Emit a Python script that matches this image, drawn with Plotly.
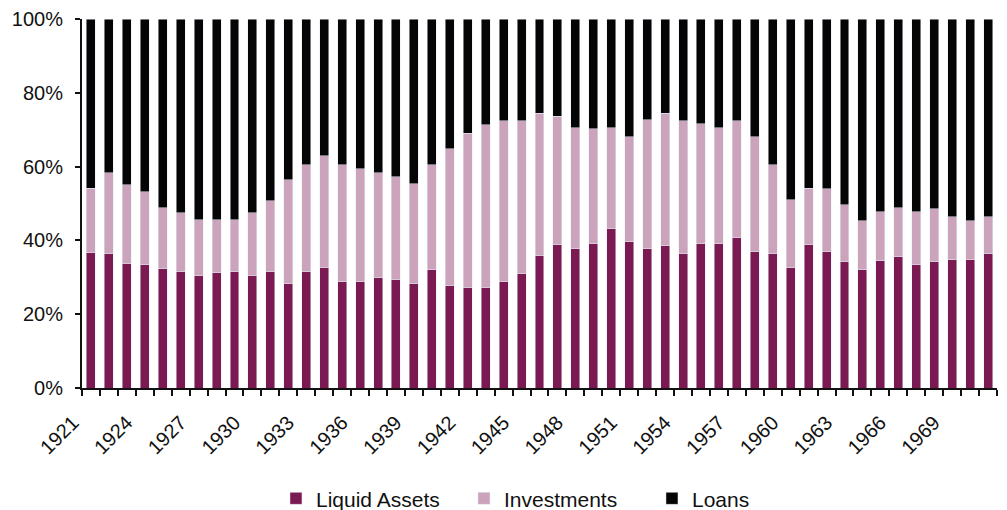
import plotly.graph_objects as go

# Composition of bank assets, share of total (%)
years = list(range(1921, 1972))

liquid_assets = [
    36.6, 36.4, 33.7, 33.4, 32.3, 31.5, 30.4, 31.2, 31.5, 30.4, 31.5, 28.2, 31.5, 32.6, 28.8, 28.8, 29.9,
    29.3, 28.2, 32.0, 27.7, 27.2, 27.2, 28.8, 31.0, 35.8, 38.8, 37.7, 39.1, 43.1, 39.6, 37.7, 38.5, 36.4,
    39.1, 39.1, 40.7, 36.9, 36.4, 32.6, 38.8, 36.9, 34.2, 32.0, 34.5, 35.6, 33.4, 34.2, 34.7, 34.7, 36.4,
]
investments = [
    17.6, 21.9, 21.4, 19.8, 16.5, 16.0, 15.2, 14.4, 14.1, 17.1, 19.2, 28.2, 29.0, 30.3, 31.7, 30.6, 28.4,
    27.9, 27.1, 28.5, 37.1, 41.9, 44.1, 43.6, 41.4, 38.7, 34.9, 32.8, 31.1, 27.4, 28.5, 35.0, 36.0, 36.0,
    32.5, 31.4, 31.7, 31.2, 24.1, 18.4, 15.4, 17.1, 15.4, 13.3, 13.2, 13.2, 14.3, 14.4, 11.7, 10.6, 10.0,
]
loans = [
    45.8, 41.7, 44.9, 46.8, 51.2, 52.5, 54.4, 54.4, 54.4, 52.5, 49.3, 43.6, 39.5, 37.1, 39.5, 40.6, 41.7,
    42.8, 44.7, 39.5, 35.2, 30.9, 28.7, 27.6, 27.6, 25.5, 26.3, 29.5, 29.8, 29.5, 31.9, 27.3, 25.5, 27.6,
    28.4, 29.5, 27.6, 31.9, 39.5, 49.0, 45.8, 46.0, 50.4, 54.7, 52.3, 51.2, 52.3, 51.4, 53.6, 54.7, 53.6,
]
label_years = list(range(1921, 1972, 3))

FONT = "Arial, 'Liberation Sans', sans-serif"

fig = go.Figure()
fig.add_trace(go.Bar(x=years, y=liquid_assets, name="Liquid Assets", marker_color="#7B1A52"))
fig.add_trace(go.Bar(x=years, y=investments, name="Investments", marker_color="#CBA3BB"))
fig.add_trace(go.Bar(x=years, y=loans, name="Loans", marker_color="#050505"))

fig.update_layout(
    barmode="stack",
    bargap=0.5,
    width=1007,
    height=510,
    margin=dict(l=82, r=10, t=19, b=122, autoexpand=False),
    plot_bgcolor="white",
    paper_bgcolor="white",
    font=dict(family=FONT, size=20, color="#111111"),
    legend=dict(
        orientation="h",
        x=0.212,
        xanchor="left",
        y=-0.30,
        yanchor="middle",
        font=dict(size=21),
        traceorder="normal",
        itemwidth=30,
        entrywidth=143,
    ),
    showlegend=True,
)

fig.update_xaxes(
    range=[1920.5, 1971.5],
    tickmode="array",
    tickvals=label_years,
    ticktext=[str(y) for y in label_years],
    tickangle=-45,
    ticks="",
    ticklabelshift=-18,
    ticklabelstandoff=13,
    showgrid=False,
    zeroline=False,
    showline=True,
    linecolor="#111111",
    linewidth=2,
    minor=dict(ticks="outside", tick0=1920.5, dtick=1, ticklen=6, tickcolor="#111111", tickwidth=1.5, showgrid=False),
    tickfont=dict(size=20),
)

fig.update_yaxes(
    range=[0, 100],
    dtick=20,
    ticksuffix="%",
    ticks="outside",
    ticklen=5,
    tickwidth=1.5,
    tickcolor="#111111",
    ticklabelstandoff=8,
    showgrid=False,
    zeroline=False,
    showline=True,
    linecolor="#111111",
    linewidth=2,
    tickfont=dict(size=20),
)

fig.write_html("out.html")
